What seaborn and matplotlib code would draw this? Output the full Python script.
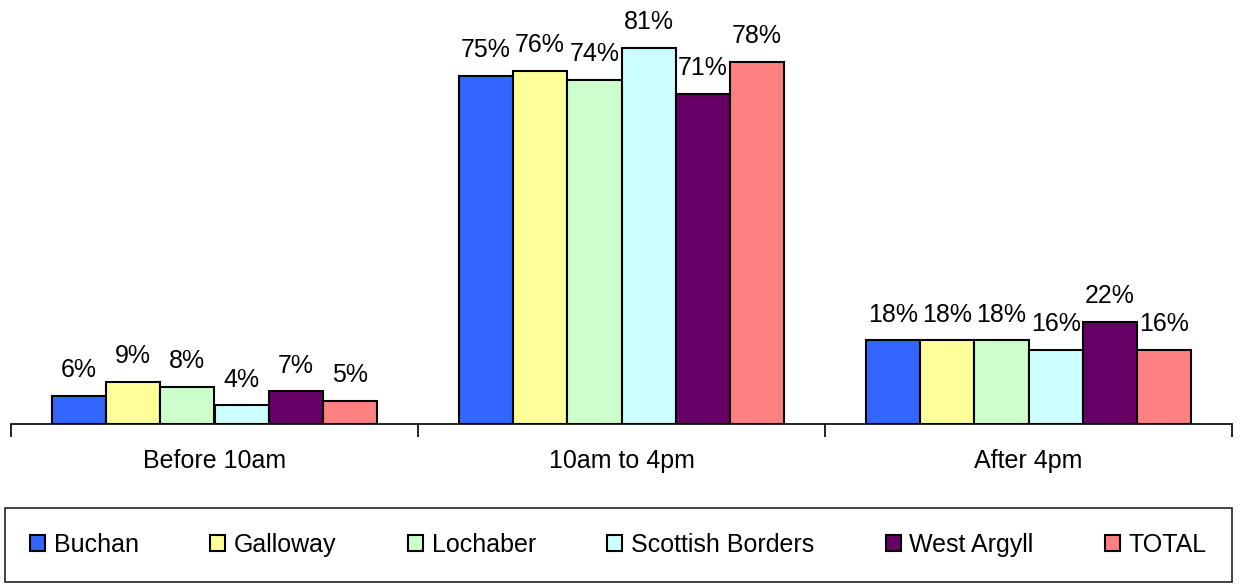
import pandas as pd
import matplotlib
matplotlib.use("Agg")
import matplotlib.pyplot as plt
import seaborn as sns

# Chart data
periods = ["Before 10am", "10am to 4pm", "After 4pm"]
areas = ["Buchan", "Galloway", "Lochaber", "Scottish Borders", "West Argyll", "TOTAL"]
buchan = [6, 75, 18]
galloway = [9, 76, 18]
lochaber = [8, 74, 18]
scottish_borders = [4, 81, 16]
west_argyll = [7, 71, 22]
total = [5, 78, 16]
colours = ["#3366FF", "#FFFF99", "#CCFFCC", "#CCFFFF", "#660066", "#FF8080"]

series = [buchan, galloway, lochaber, scottish_borders, west_argyll, total]
rows = []
for area, vals in zip(areas, series):
    for period, v in zip(periods, vals):
        rows.append({"Period": period, "Area": area, "Percent": v})
df = pd.DataFrame(rows)

sns.set_style("white")
plt.rcParams["font.family"] = ["Liberation Sans", "DejaVu Sans"]
plt.rcParams["text.color"] = "black"
plt.rcParams["xtick.color"] = "black"

fig = plt.figure(figsize=(12.44, 5.85), dpi=100)
ax = fig.add_axes([11 / 1244, 1 - 424 / 585, 1221 / 1244, 418 / 585])

sns.barplot(data=df, x="Period", y="Percent", hue="Area", order=periods,
            hue_order=areas, palette=colours, edgecolor="black", linewidth=1.5,
            saturation=1, width=0.8, ax=ax, legend=True)

for cont in ax.containers:
    ax.bar_label(cont, fmt="%d%%", padding=10, fontsize=18, color="black")

ax.set_ylim(0, 90)
ax.set_xlim(-0.5, 2.5)
ax.set_yticks([])
ax.set_ylabel("")
ax.set_xlabel("")
for s in ["top", "left", "right"]:
    ax.spines[s].set_visible(False)
ax.spines["bottom"].set_color("black")
ax.spines["bottom"].set_linewidth(1.2)

# boundary ticks between groups, labels centred on groups
ax.set_xticks([-0.5, 0.5, 1.5, 2.5])
ax.set_xticklabels([])
ax.tick_params(axis="x", which="major", direction="out", length=9, width=1.2,
               color="black", bottom=True)
ax.set_xticks([0, 1, 2], minor=True)
ax.set_xticklabels(periods, minor=True, fontsize=18, color="black")
ax.tick_params(axis="x", which="minor", length=0, pad=18)

handles, labels = ax.get_legend_handles_labels()
ax.get_legend().remove()
leg = fig.legend(handles, labels, loc="lower left",
                 bbox_to_anchor=(5 / 1244, 3 / 585, 1227 / 1244, 77 / 585),
                 mode="expand", ncol=6, fontsize=18, frameon=True, fancybox=False,
                 handlelength=0.6, handleheight=0.6, handletextpad=0.35,
                 borderaxespad=0, borderpad=1.0)
leg.get_frame().set_edgecolor("black")
leg.get_frame().set_linewidth(1.3)
for t in leg.get_texts():
    t.set_color("black")

fig.savefig("out.png", dpi=100)
